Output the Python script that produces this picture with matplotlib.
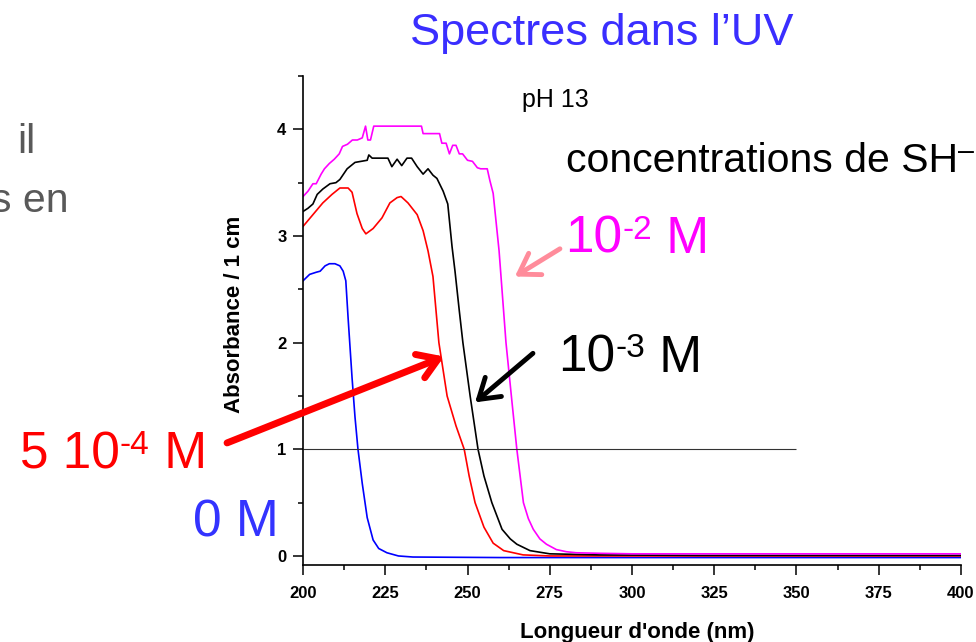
import matplotlib
matplotlib.use('Agg')
from matplotlib import pyplot as plt

plt.rcParams['font.family'] = ['Liberation Sans', 'DejaVu Sans']

# spectra: wavelength (nm) and absorbance
lam_m = [200, 201.5, 203, 204, 205.5, 206.5, 208, 209.5, 211, 212,
         213.5, 215, 216.5, 218, 219, 219.7, 220.5, 221.5, 222.5, 236,
         236.5, 241.5, 242.2, 243.5, 244.5, 245.5, 246.5, 247.5, 248.5, 250,
         251.5, 253, 254, 256, 256.8, 257.8, 259.6, 261.7, 263.5, 265,
         266, 267, 268.5, 270, 272, 274, 277, 280, 283, 290,
         300, 325, 350, 375, 400]
abs_m = [3.37, 3.42, 3.49, 3.49, 3.58, 3.63, 3.68, 3.72, 3.77, 3.84,
         3.86, 3.90, 3.90, 3.92, 4.03, 3.90, 3.90, 4.03, 4.03, 4.03,
         3.96, 3.96, 3.87, 3.87, 3.77, 3.85, 3.85, 3.77, 3.77, 3.71,
         3.70, 3.64, 3.63, 3.63, 3.52, 3.40, 2.86, 2.00, 1.45, 1.00,
         0.75, 0.50, 0.35, 0.25, 0.16, 0.11, 0.06, 0.04, 0.03, 0.025,
         0.02, 0.02, 0.02, 0.02, 0.02]

lam_k = [200, 201.5, 203, 204.3, 206, 208.2, 210, 211.2, 213.4, 215.8,
         219.5, 220, 221, 225.8, 227, 228.6, 230, 231.6, 233, 234.7,
         236.5, 238, 239.5, 240.7, 242.6, 244, 245.3, 246.2, 247.5, 248.6,
         250.8, 253.2, 255, 257.4, 260.5, 263, 265, 269, 275, 290,
         320, 400]
abs_k = [3.23, 3.26, 3.30, 3.39, 3.44, 3.49, 3.50, 3.53, 3.63, 3.69,
         3.71, 3.76, 3.73, 3.73, 3.65, 3.72, 3.66, 3.73, 3.73, 3.65,
         3.58, 3.63, 3.57, 3.54, 3.42, 3.30, 2.90, 2.67, 2.30, 2.00,
         1.50, 1.00, 0.75, 0.50, 0.25, 0.16, 0.11, 0.05, 0.02, 0.01,
         0.005, 0.005]

lam_r = [200, 203, 206, 208.8, 211.2, 213.7, 214.9, 216.4, 218, 219.1,
         221.3, 224, 226.4, 228.6, 229.8, 231.9, 234.7, 236.5, 238, 239.5,
         241.3, 243.8, 246.5, 249, 250.5, 252.3, 255, 257.8, 261, 266.9,
         275, 300, 400]
abs_r = [3.09, 3.20, 3.31, 3.39, 3.45, 3.45, 3.41, 3.21, 3.07, 3.02,
         3.07, 3.17, 3.31, 3.36, 3.37, 3.31, 3.20, 3.05, 2.86, 2.62,
         2.00, 1.50, 1.22, 1.00, 0.75, 0.50, 0.27, 0.12, 0.05, 0.01,
         0.0, 0.0, 0.0]

lam_b = [200, 202, 204, 205.2, 206.7, 208, 209.7, 211.2, 212.2, 213,
         213.7, 214.9, 215.8, 216.7, 218, 219.5, 221.3, 223, 225.5, 229,
         233.4, 260, 300, 400]
abs_b = [2.58, 2.64, 2.66, 2.67, 2.72, 2.74, 2.74, 2.72, 2.67, 2.58,
         2.23, 1.67, 1.30, 1.00, 0.68, 0.36, 0.15, 0.07, 0.03, 0.0,
         -0.01, -0.015, -0.015, -0.015]

ref_level = 1.0
ref_end = 350

x_ticks = [200, 225, 250, 275, 300, 325, 350, 375, 400]
y_ticks = [0, 1, 2, 3, 4]

fig = plt.figure(figsize=(9.76, 6.42), dpi=100)
ax = fig.add_axes([0.3105, 0.1199, 0.674, 0.7617])

ax.plot(lam_b, abs_b, color='#0000ff', lw=1.2)
ax.plot(lam_r, abs_r, color='#ff0000', lw=1.2)
ax.plot(lam_k, abs_k, color='black', lw=1.2)
ax.plot(lam_m, abs_m, color='#ff00ff', lw=1.2)
ax.hlines(ref_level, x_ticks[0], ref_end, color='#333333', lw=0.8)

ax.set_xlim(200, 400)
ax.set_ylim(-0.085, 4.49)
ax.set_xticks(x_ticks)
ax.set_yticks(y_ticks)
ax.set_xticks([x + 12.5 for x in x_ticks[:-1]], minor=True)
ax.set_yticks([y + 0.5 for y in y_ticks], minor=True)
ax.spines['top'].set_visible(False)
ax.spines['right'].set_visible(False)
for s in ['left', 'bottom']:
    ax.spines[s].set_linewidth(1.2)
ax.tick_params(which='major', direction='out', length=7, width=1.1, pad=5,
               labelsize=12)
ax.tick_params(axis='x', which='major', pad=8)
ax.tick_params(which='minor', direction='out', length=3.5, width=1.1)
for lab in ax.get_xticklabels() + ax.get_yticklabels():
    lab.set_fontweight('bold')

fig.text(0.653, 0.006, "Longueur d'onde (nm)", fontsize=16, fontweight='bold',
         ha='center', va='baseline')
fig.text(0.240, 0.511, 'Absorbance / 1 cm', fontsize=16, fontweight='bold',
         rotation=90, ha='center', va='center')

fig.text(0.617, 0.930, 'Spectres dans l\u2019UV', fontsize=32.5, color='#3a2eff',
         ha='center', va='baseline')
fig.text(0.535, 0.833, 'pH 13', fontsize=18, ha='left', va='baseline')
fig.text(0.036, 0.762, 'il', fontsize=29.5, color='#595959', ha='right',
         va='baseline')
fig.text(0.070, 0.670, 's en', fontsize=29.5, color='#595959', ha='right',
         va='baseline')

renderer = fig.canvas.get_renderer()
W, H = fig.bbox.width, fig.bbox.height


def sup_text(x, y, base, sup, tail, size, color, sup_scale=0.65, rise=0.28):
    t = fig.text(x, y, base, fontsize=size, color=color, va='baseline')
    x1 = t.get_window_extent(renderer).x1 / W
    dy = rise * size * fig.dpi / 72 / H
    s = fig.text(x1, y + dy, sup, fontsize=size * sup_scale, color=color,
                 va='baseline')
    x2 = s.get_window_extent(renderer).x1 / W
    if tail:
        fig.text(x2, y, tail, fontsize=size, color=color, va='baseline')


sup_text(0.580, 0.732, 'concentrations de SH', '\u2013', '', 29.5, 'black',
         sup_scale=0.7, rise=0.30)
sup_text(0.579, 0.606, '10', '-2', '\u00a0M', 37, '#ff00ff')
sup_text(0.572, 0.421, '10', '-3', '\u00a0M', 37, 'black')
sup_text(0.0205, 0.271, '5 10', '-4', '\u00a0M', 37, '#ff0000')
fig.text(0.198, 0.164, '0 M', fontsize=37, color='#3333ff', va='baseline')

ax.annotate('', xy=(264.4, 2.62), xytext=(278.1, 2.88),
            arrowprops=dict(arrowstyle='->,head_length=0.7,head_width=0.45',
                            mutation_scale=20, color='#ff8c9b', lw=3.5,
                            shrinkA=0, shrinkB=0))
ax.annotate('', xy=(252.3, 1.44), xytext=(269.9, 1.90),
            arrowprops=dict(arrowstyle='->,head_length=0.7,head_width=0.45',
                            mutation_scale=20, color='black', lw=3.5,
                            shrinkA=0, shrinkB=0))
ax.annotate('', xy=(242.9, 1.87), xytext=(176.9, 1.06),
            arrowprops=dict(arrowstyle='->,head_length=0.7,head_width=0.45',
                            mutation_scale=20, color='#ff0000', lw=5,
                            shrinkA=0, shrinkB=0),
            annotation_clip=False)

fig.savefig('out.png', dpi=100)
